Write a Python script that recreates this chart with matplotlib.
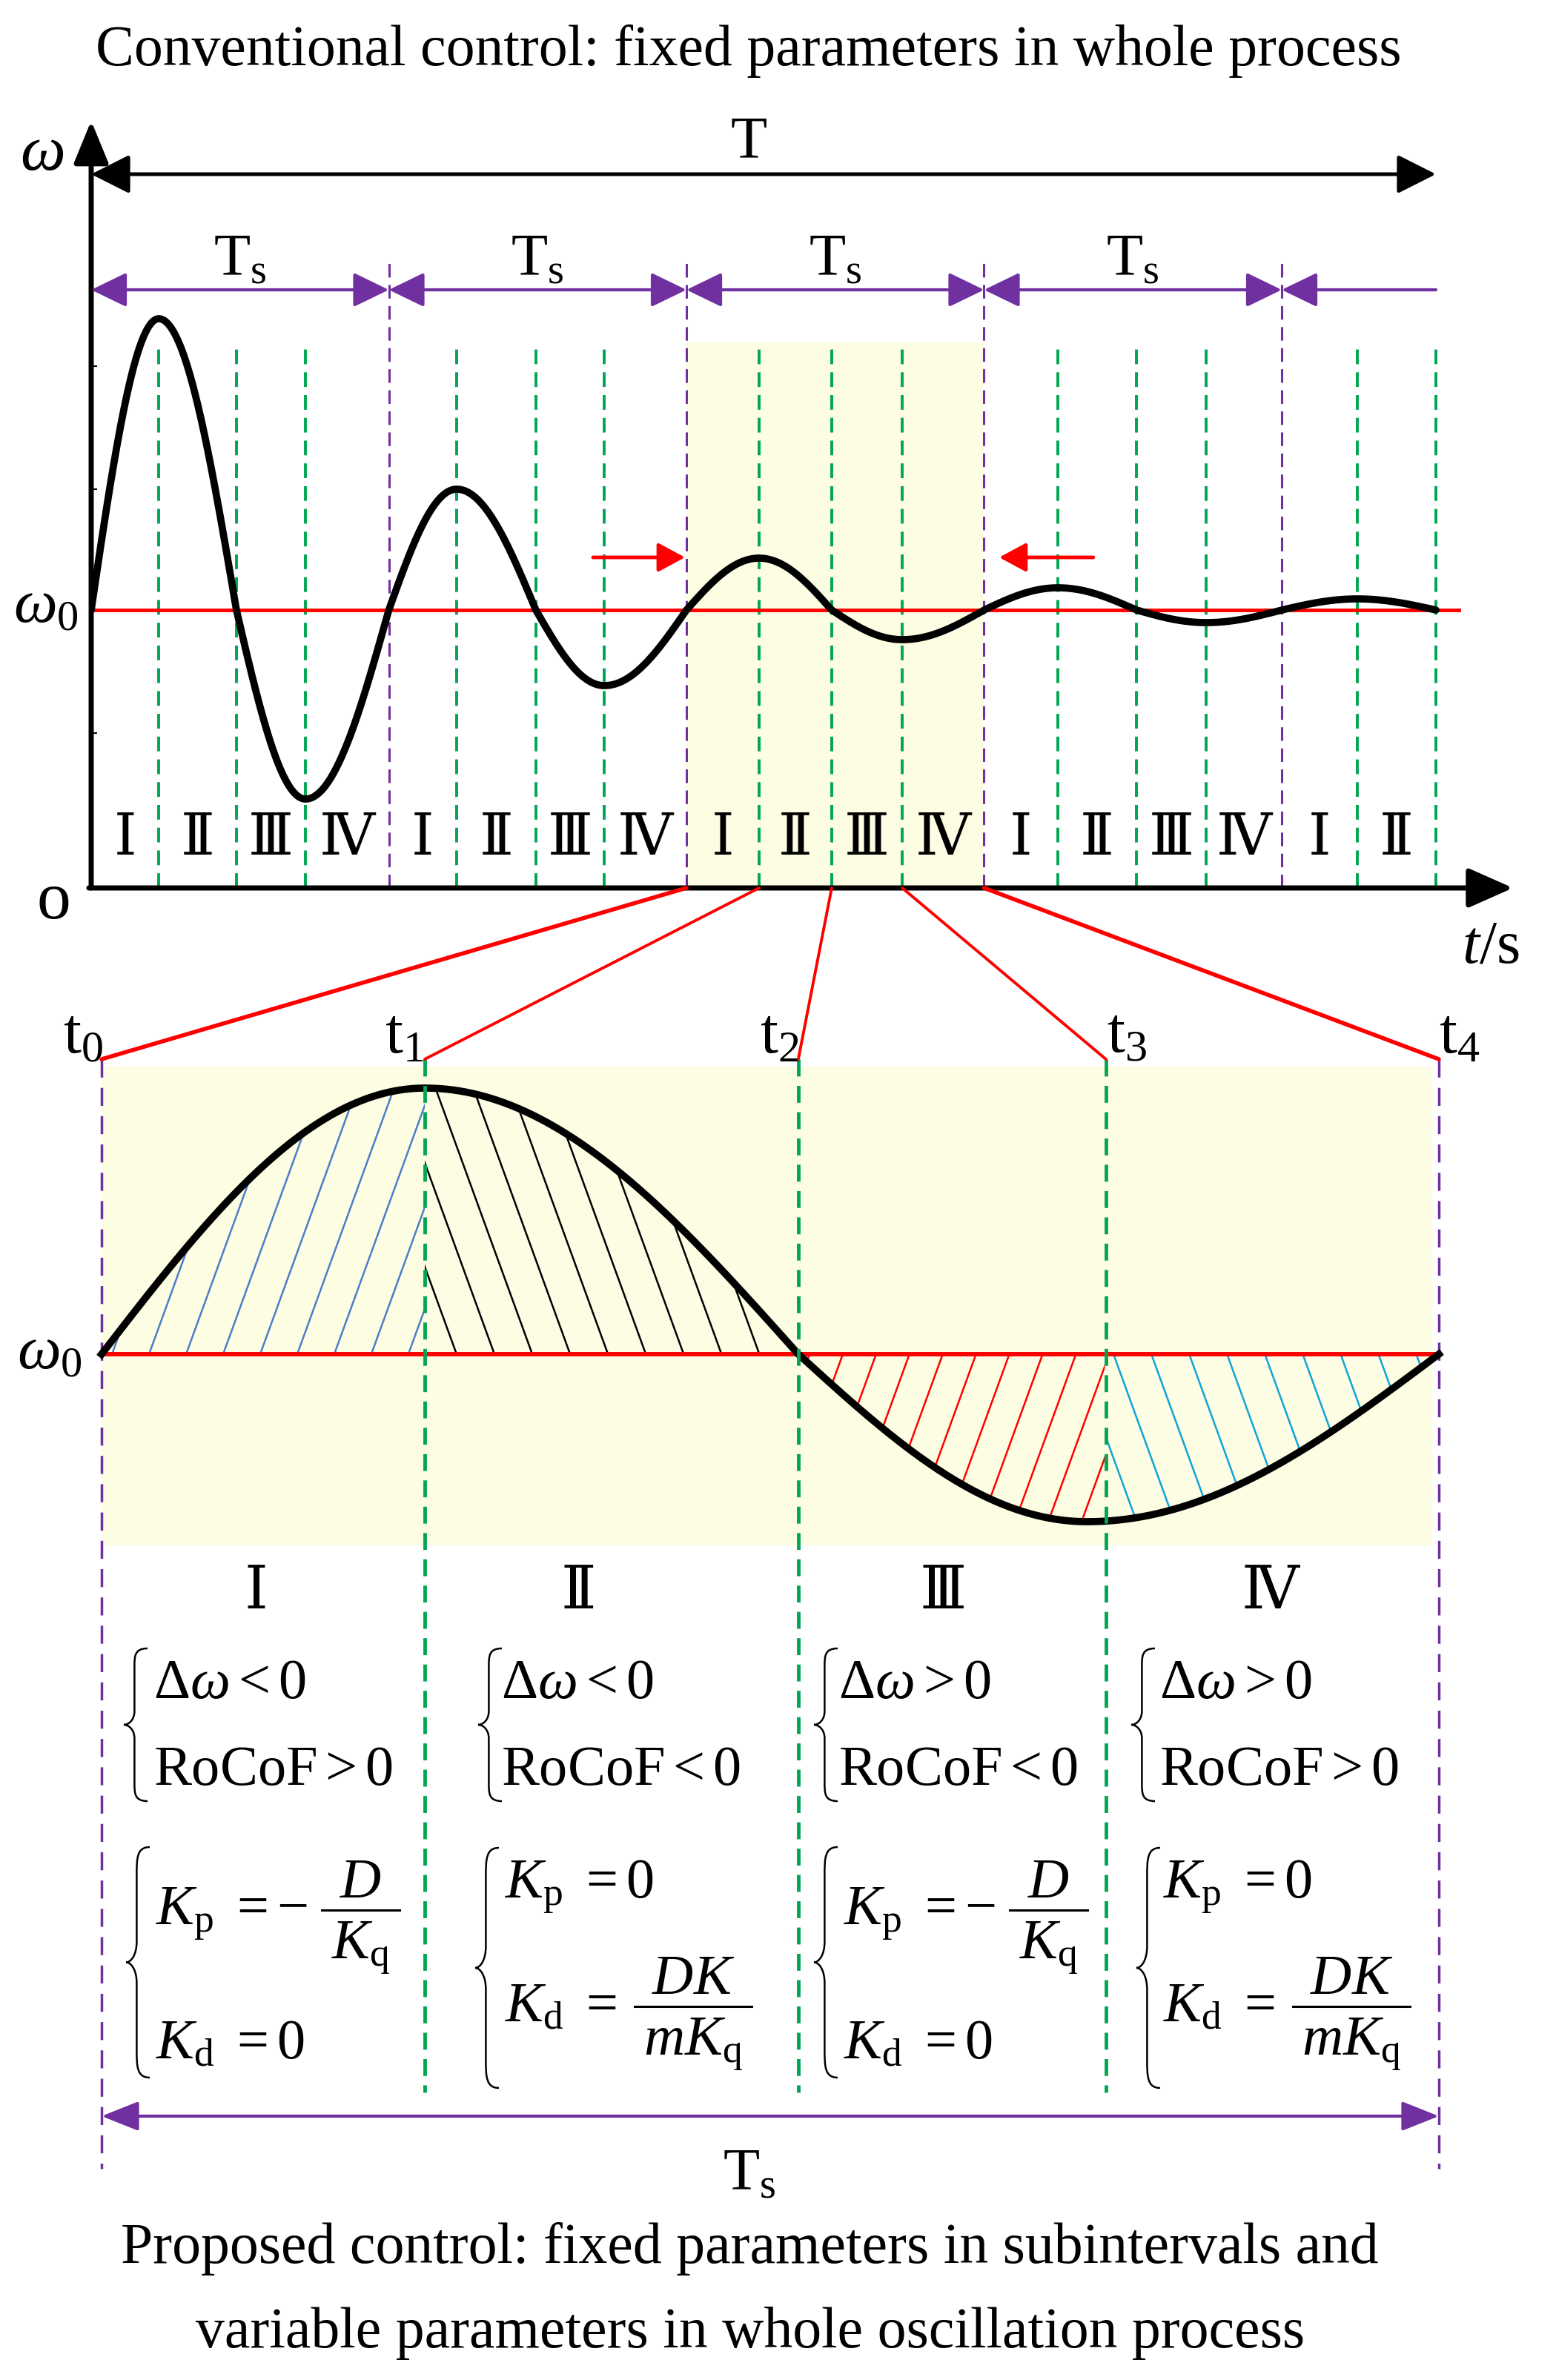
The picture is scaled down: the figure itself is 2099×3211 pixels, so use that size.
import numpy as np
import matplotlib
matplotlib.use('Agg')
import matplotlib.pyplot as plt
from matplotlib.patches import ConnectionPatch, Polygon, PathPatch
from matplotlib.path import Path

plt.rcParams['font.family'] = ['Liberation Serif', 'DejaVu Serif']
plt.rcParams['mathtext.fontset'] = 'custom'
plt.rcParams['mathtext.rm'] = 'Liberation Serif'
plt.rcParams['mathtext.it'] = 'Liberation Serif:italic'
plt.rcParams['mathtext.bf'] = 'Liberation Serif:bold'

# ---- data: conventional control (top) ----
# subinterval boundaries in units of Ts, and deviation of w from w0 at those points
t_marks = [0, 0.227, 0.488, 0.720, 1.0, 1.228, 1.494, 1.724, 2.0, 2.244, 2.488,
           2.725, 3.0, 3.248, 3.512, 3.746, 4.0, 4.254, 4.518]
w_dev = [0, 0.393, 0, -0.255, 0, 0.163, 0, -0.102, 0, 0.070, 0, -0.040, 0,
         0.030, 0, -0.017, 0, 0.015, 0]
ts_bounds = [0, 1, 2, 3, 4]
zoom_k = 2
sub_labels = ['Ⅰ', 'Ⅱ', 'Ⅲ', 'Ⅳ']
y_ticks = [0.329, 0.163, -0.166]

# ---- data: proposed control, one Ts (bottom) ----
tb_marks = [0, 0.2417, 0.521, 0.751, 1.0]
tb_names = ['t$_0$', 't$_1$', 't$_2$', 't$_3$', 't$_4$']
tb_key = [0, 0.2417, 0.521, 0.737, 1.0]
wb_key = [0, 0.359, 0, -0.226, 0]

cond_text = [[r'$\Delta\omega<0$', r'$\mathrm{RoCoF}>0$'],
             [r'$\Delta\omega<0$', r'$\mathrm{RoCoF}<0$'],
             [r'$\Delta\omega>0$', r'$\mathrm{RoCoF}<0$'],
             [r'$\Delta\omega>0$', r'$\mathrm{RoCoF}>0$']]
# gain rules: (left side, numerator, denominator) ; no fraction if numerator is None
gain_p = [(r'$K_\mathrm{p}\ =-$', '$D$', r'$K_\mathrm{q}$'),
          (r'$K_\mathrm{p}\ =0$', None, None),
          (r'$K_\mathrm{p}\ =-$', '$D$', r'$K_\mathrm{q}$'),
          (r'$K_\mathrm{p}\ =0$', None, None)]
gain_d = [(r'$K_\mathrm{d}\ =0$', None, None),
          (r'$K_\mathrm{d}\ =$', '$DK$', r'$mK_\mathrm{q}$'),
          (r'$K_\mathrm{d}\ =0$', None, None),
          (r'$K_\mathrm{d}\ =$', '$DK$', r'$mK_\mathrm{q}$')]

GREEN = '#00A651'
PURPLE = '#7030A0'
RED = '#FF0000'
YELLOW = '#FDFDE4'

W, H = 2099, 3211
fig = plt.figure(figsize=(W / 100, H / 100), dpi=100)


def fx(p):
    return p / W


def fy(p):
    return 1 - p / H


def wave(tk, vk, n=120):
    ts, vs = [], []
    for i in range(len(tk) - 1):
        s = np.linspace(0, 1, n)
        t = tk[i] + (tk[i + 1] - tk[i]) * s
        if vk[i] == 0:
            v = vk[i + 1] * np.sin(np.pi / 2 * s)
        else:
            v = vk[i] * np.cos(np.pi / 2 * s)
        ts.append(t)
        vs.append(v)
    return np.concatenate(ts), np.concatenate(vs)


def arrow(ax, p0, p1, style, color, lw, hl, hw, ms=30):
    ax.annotate('', xy=p1, xytext=p0, annotation_clip=False,
                arrowprops=dict(arrowstyle=f'{style},head_length={hl},head_width={hw}',
                                color=color, lw=lw, shrinkA=0, shrinkB=0,
                                mutation_scale=ms))


# ================= top panel =================
ax1 = fig.add_axes([fx(123), fy(1198), (2041 - 123) / W, (1198 - 163) / H])
ax1.set_xlim(0, (2041 - 123) / 401.5)
ax1.set_ylim(-0.375, 0.660)
ax1.patch.set_visible(False)
for s in ax1.spines.values():
    s.set_visible(False)
ax1.set_xticks([])
ax1.set_yticks(y_ticks)
ax1.tick_params(axis='y', direction='in', length=6, width=1.5, labelleft=False)
y1b = -0.375

ax1.fill_between([ts_bounds[zoom_k], ts_bounds[zoom_k + 1]], y1b, 0.361,
                 color=YELLOW, lw=0, zorder=0)
for i, t in enumerate(t_marks):
    if t in ts_bounds:
        ax1.plot([t, t], [y1b, 0.468], color=PURPLE, lw=2.2,
                 ls=(0, (6, 3.3)), zorder=1)
    elif i > 0:
        ax1.plot([t, t], [y1b, 0.354], color=GREEN, lw=2.8,
                 ls=(0, (5.1, 2.8)), zorder=1)

ax1.plot([0, 4.595], [0, 0], color=RED, lw=3.5, zorder=2)
tt, ww = wave(t_marks, w_dev)
ax1.plot(tt, ww, color='black', lw=7, solid_capstyle='round', zorder=3)

for i in range(len(t_marks) - 1):
    ax1.text((t_marks[i] + t_marks[i + 1]) / 2, -0.311, sub_labels[i % 4],
             ha='center', va='center', fontsize=56, zorder=4)

# axes arrows
arrow(ax1, (0, y1b), (0, 0.660), '-|>', 'black', 5, 1.17, 0.48)
arrow(ax1, (-0.008, y1b), ((2041 - 123) / 401.5, y1b), '-|>', 'black', 5, 1.24, 0.55)
# T arrow
arrow(ax1, (0, 0.588), (t_marks[-1], 0.588), '<|-|>', 'black', 3.6, 1.07, 0.54)
# Ts arrows
for k in range(4):
    arrow(ax1, (ts_bounds[k], 0.432), (ts_bounds[k + 1], 0.432), '<|-|>', PURPLE, 3, 0.99, 0.48)
    ax1.text(ts_bounds[k] + 0.5, 0.452, r'T$_\mathrm{s}$', ha='center', va='baseline',
             fontsize=58)
arrow(ax1, (ts_bounds[4], 0.432), (t_marks[-1], 0.432), '<|-', PURPLE, 3, 0.99, 0.48)
# red small arrows
arrow(ax1, (1.686, 0.071), (1.995, 0.071), '-|>', RED, 3.5, 0.74, 0.40)
arrow(ax1, (3.367, 0.071), (3.051, 0.071), '-|>', RED, 3.5, 0.74, 0.40)

# ================= bottom panel =================
ax2 = fig.add_axes([fx(137), fy(2930), (1941 - 137) / W, (2930 - 1429) / H])
ax2.set_xlim(0, 1)
ax2.set_ylim(-1.103, 0.398)
ax2.axis('off')
y2t = 0.398

ax2.fill_between([0, 0.995], -0.258, 0.388, color=YELLOW, lw=0, zorder=0)
for i, t in enumerate(tb_marks):
    if i in (0, len(tb_marks) - 1):
        ax2.plot([t, t], [y2t, -1.099], color=PURPLE, lw=2.5, ls=(0, (7, 4)),
                 zorder=1, clip_on=False)
    else:
        ax2.plot([t, t], [y2t, -0.996], color=GREEN, lw=3.5, ls=(0, (4.7, 2.6)),
                 zorder=5, clip_on=False)

tb, wb = wave(tb_key, wb_key, n=300)

pos = ax2.get_position()
sx = pos.width * W / 1.0
sy = pos.height * H / (0.398 + 1.103)


def hatch(t0, t1, first, spacing, direction, color, angle=70):
    m = (tb >= t0) & (tb <= t1)
    xs = tb[m]
    verts = np.column_stack([np.r_[xs, xs[::-1]], np.r_[wb[m], np.zeros(m.sum())]])
    poly = Polygon(verts, closed=True, fc='none', ec='none', transform=ax2.transData)
    ax2.add_patch(poly)
    slope = sy / (sx * np.tan(np.radians(angle)))
    ys = np.array([-0.5, 0.5])
    for k in range(-12, 40):
        xb = first + k * spacing
        ln, = ax2.plot(xb + direction * ys * slope, ys, color=color, lw=1.8, zorder=2)
        ln.set_clip_path(poly)


hatch(tb_marks[0], tb_marks[1], 0.0355, 0.0277, 1, '#4A7EC8')
hatch(tb_marks[1], tb_marks[2], 0.2655, 0.0283, -1, 'black')
hatch(tb_marks[2], tb_marks[3], 0.5543, 0.0249, 1, RED)
hatch(tb_marks[3], tb_marks[4], 0.7567, 0.0283, -1, '#12A3D6')

ax2.plot([0, 1], [0, 0], color=RED, lw=4.3, zorder=3, clip_on=False)
ax2.plot(tb, wb, color='black', lw=7, zorder=4, clip_on=False)
arrow(ax2, (0, -1.028), (1, -1.028), '<|-|>', PURPLE, 3, 1.03, 0.41)

# connectors between the panels
for k in range(5):
    con = ConnectionPatch(xyA=(t_marks[8 + k], y1b), coordsA=ax1.transData,
                          xyB=(tb_marks[k], y2t), coordsB=ax2.transData,
                          color=RED, lw=4 if k in (0, 4) else 2.8)
    fig.add_artist(con)

# ================= overlay texts =================
ov = fig.add_axes([0, 0, 1, 1])
ov.set_xlim(0, W)
ov.set_ylim(H, 0)
ov.axis('off')

ov.text(1010, 88, 'Conventional control: fixed parameters in whole process',
        ha='center', va='baseline', fontsize=56)
ov.text(1010, 212, 'T', ha='center', va='baseline', fontsize=58)
ov.text(57, 229, r'$\omega$', ha='center', va='baseline', fontsize=62)
ov.text(62, 838, r'$\omega_0$', ha='center', va='baseline', fontsize=60)
ov.text(72, 1217, 'o', ha='center', va='center', fontsize=66)
ov.text(2011, 1298, r'$t$/s', ha='center', va='baseline', fontsize=60)
ov.text(67, 1845, r'$\omega_0$', ha='center', va='baseline', fontsize=60)

for x, name in zip([112, 546, 1052, 1520, 1969], tb_names):
    ov.text(x, 1420, name, ha='center', va='baseline', fontsize=62)

for x, lab in zip([345, 780, 1272, 1713], sub_labels):
    ov.text(x, 2151, lab, ha='center', va='center', fontsize=58)


def brace(x, y0, y1, w=32, lw=1.8):
    h = y1 - y0
    ym = (y0 + y1) / 2
    xm = x + 0.45 * w
    verts = [(x + w, y0), (xm, y0), (xm, y0 + 0.05 * h), (xm, y0 + 0.12 * h),
             (xm, ym - 0.09 * h),
             (xm, ym - 0.03 * h), (x + 0.2 * w, ym), (x, ym),
             (x + 0.2 * w, ym), (xm, ym + 0.03 * h), (xm, ym + 0.09 * h),
             (xm, y1 - 0.12 * h),
             (xm, y1 - 0.05 * h), (xm, y1), (x + w, y1)]
    C, L = Path.CURVE4, Path.LINETO
    codes = [Path.MOVETO, C, C, C, L, C, C, C, C, C, C, L, C, C, C]
    ov.add_patch(PathPatch(Path(verts, codes), fc='none', ec='black', lw=lw))


def gain_line(x, base, rule, bar_x0, bar_x1, fs=55):
    left, num, den = rule
    ov.text(x, base, left, ha='left', va='baseline', fontsize=fs)
    if num is None:
        return
    bar_y = base - 20
    xc = (bar_x0 + bar_x1) / 2
    ov.plot([bar_x0, bar_x1], [bar_y, bar_y], color='black', lw=2.2)
    ov.text(xc, bar_y - 17, num, ha='center', va='baseline', fontsize=fs)
    ov.text(xc, bar_y + 66, den, ha='center', va='baseline', fontsize=fs)


cond_x = [207, 676, 1131, 1564]
cond_bx = [167, 645, 1098, 1526]
gain_x = [210, 681, 1138, 1569]
gain_bx = [170, 641, 1098, 1533]
for k in range(4):
    brace(cond_bx[k], 2224, 2430)
    ov.text(cond_x[k], 2291, cond_text[k][0], ha='left', va='baseline', fontsize=55)
    ov.text(cond_x[k], 2408, cond_text[k][1], ha='left', va='baseline', fontsize=55)
    off = gain_x[k] - 210 if k % 2 == 0 else gain_x[k] - 681
    if k % 2 == 0:
        brace(gain_bx[k], 2492, 2803)
        gain_line(gain_x[k], 2597, gain_p[k], 434 + off, 539 + off)
        gain_line(gain_x[k], 2777, gain_d[k], 0, 0)
    else:
        brace(gain_bx[k], 2493, 2817)
        gain_line(gain_x[k], 2560, gain_p[k], 0, 0)
        gain_line(gain_x[k], 2727, gain_d[k], 856 + off, 1014 + off)

ov.text(1011, 2954, r'T$_\mathrm{s}$', ha='center', va='baseline', fontsize=58)
ov.text(1011, 3053, 'Proposed control: fixed parameters in subintervals and',
        ha='center', va='baseline', fontsize=56)
ov.text(1012, 3167, 'variable parameters in whole oscillation process',
        ha='center', va='baseline', fontsize=56)

fig.savefig('out.png', dpi=100)
